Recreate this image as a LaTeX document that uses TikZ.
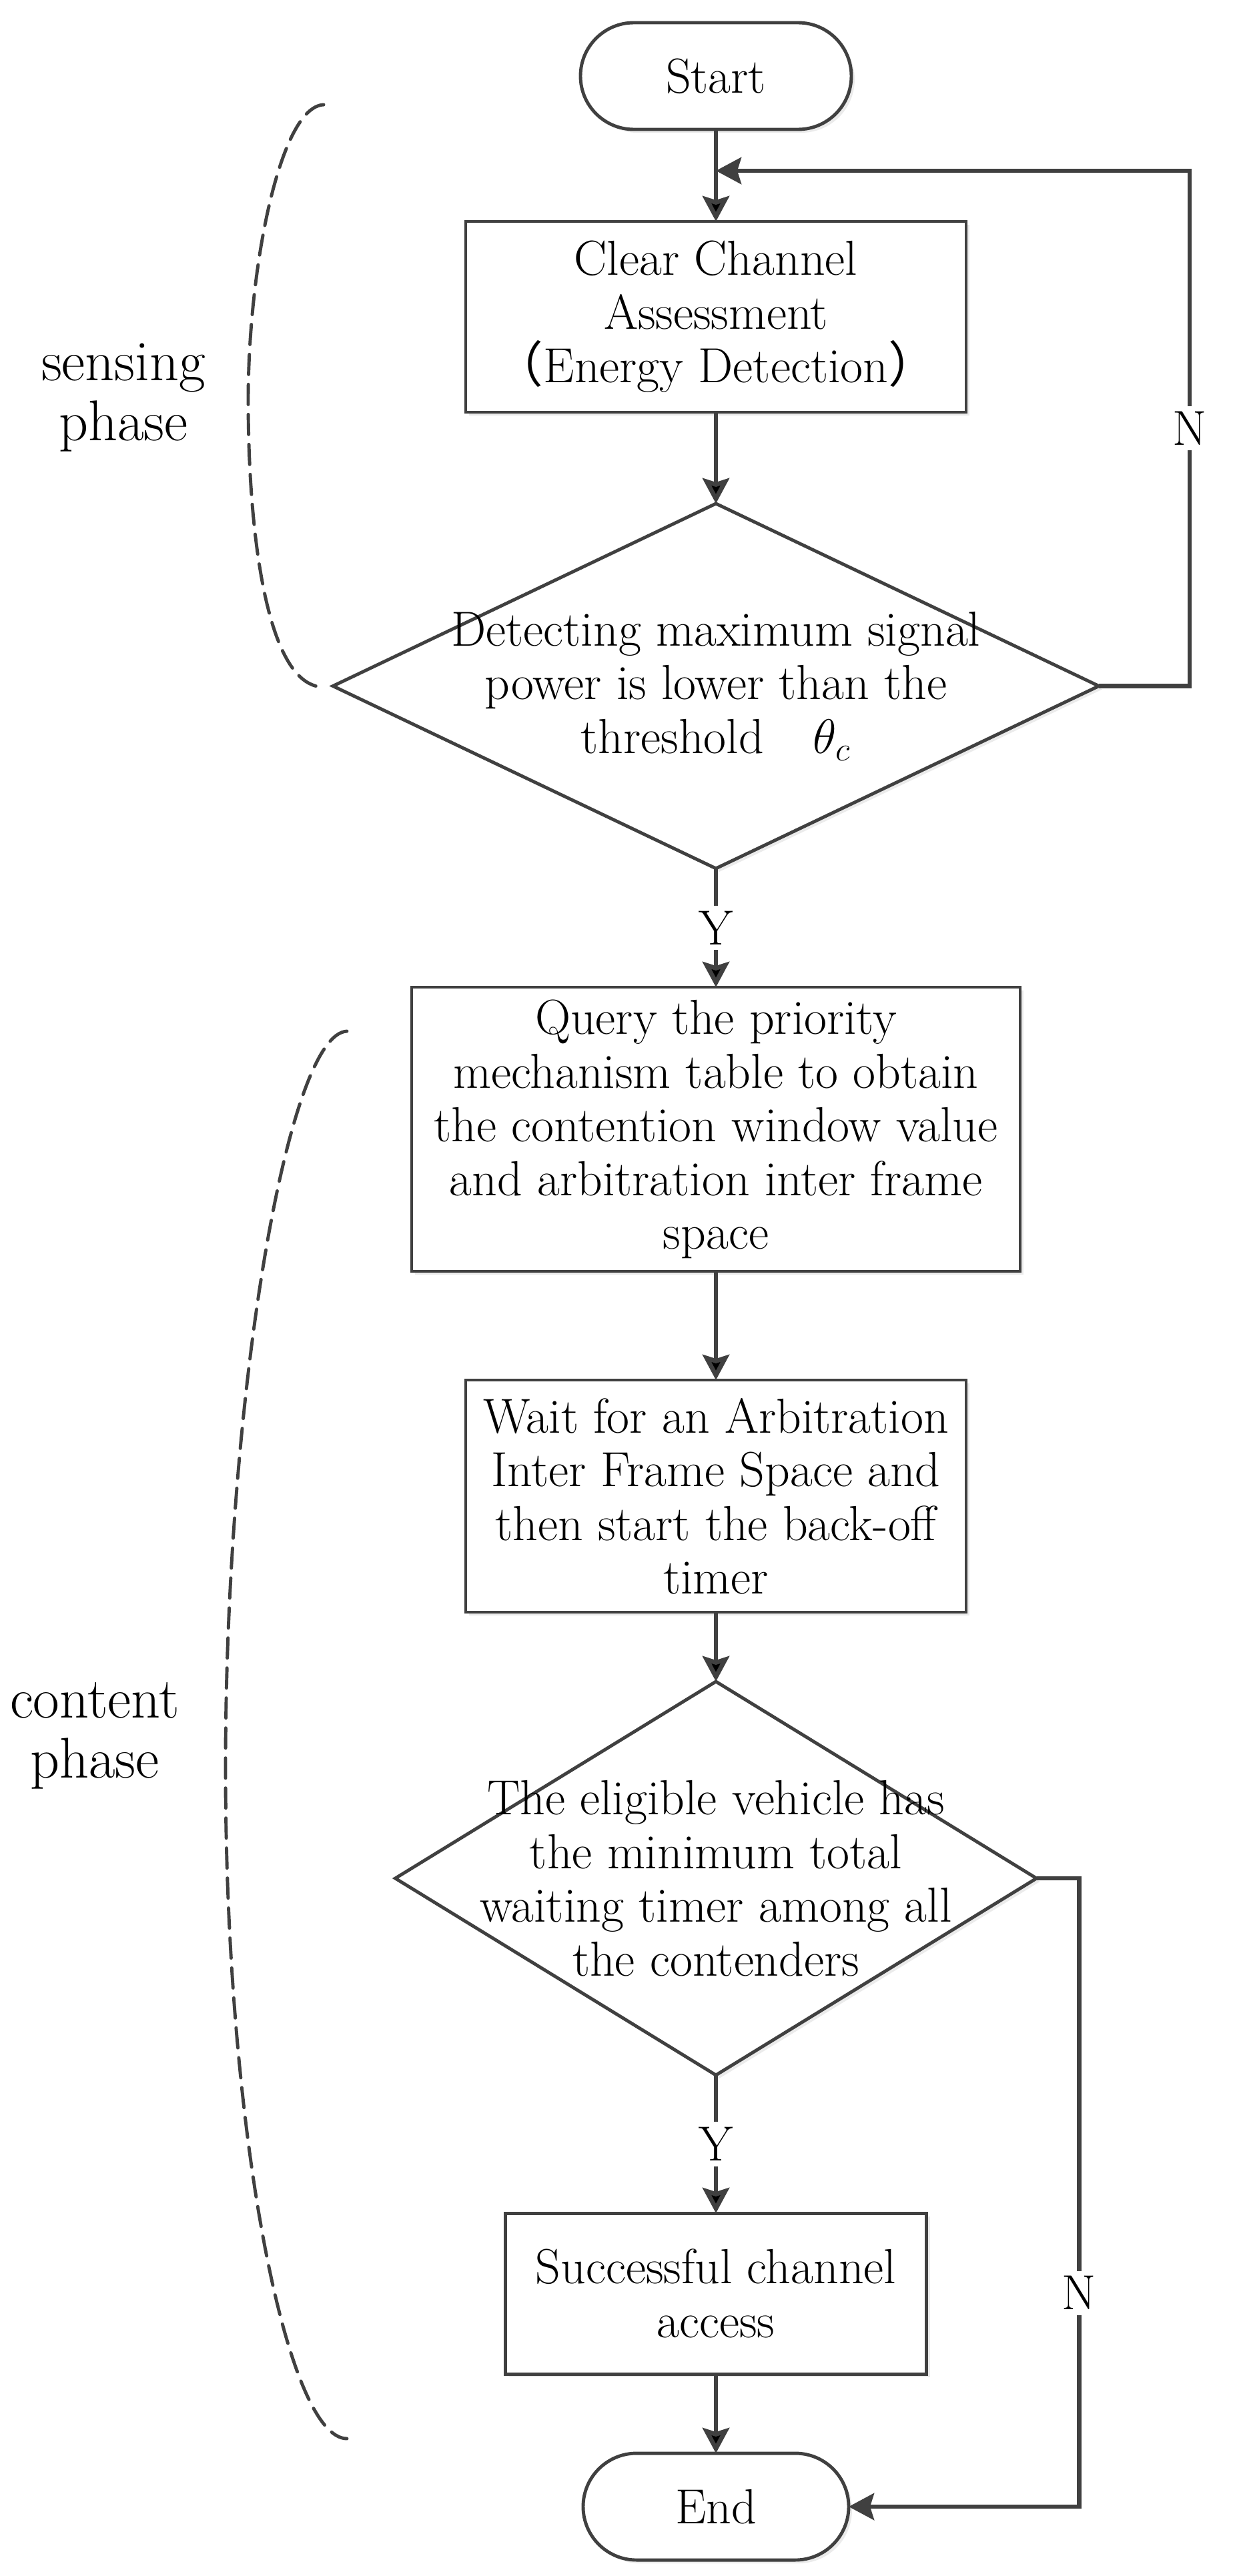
\documentclass[tikz,border=0pt]{standalone}
\usepackage{fontspec}
\newfontfamily\cjk{Noto Sans CJK SC}
\usepackage{tikz}
\usetikzlibrary{positioning,shapes.geometric,arrows.meta,shadows}

\definecolor{ink}{HTML}{404040}
\newcommand\boxfont{\fontsize{21}{22.9}\selectfont}
\newcommand\phasefont{\fontsize{24.5}{25.6}\selectfont}

\tikzset{
    base/.style={draw=ink, line width=1.4pt, fill=white, outer sep=0pt, align=center,
        inner sep=0.1cm, font=\boxfont,
        drop shadow={shadow xshift=0.05cm, shadow yshift=-0.05cm, fill=black, opacity=0.08}},
    term/.style={base, rectangle, rounded corners=0.8cm, minimum height=1.6cm},
    proc/.style={base, rectangle},
    cond/.style={base, diamond, inner sep=0pt},
    flow/.style={draw=ink, line width=1.9pt, -{Stealth[length=0.38cm,width=0.4cm,inset=0.06cm]}},
    yn/.style={fill=white, font=\boxfont, inner sep=0.08cm},
    phase/.style={draw=ink, line width=1.4pt, dash pattern=on 0.3cm off 0.15cm, line cap=round},
}

\begin{document}
\begin{tikzpicture}
            \useasboundingbox (0,0) rectangle (18.5,-38.62);
            \node[term, minimum width=4.06cm](start) at (10.73,-1.14){Start};
            \node[proc, minimum width=7.5cm, minimum height=2.86cm](cca)[below =1.38cm of start]{Clear Channel\\Assessment\\{\cjk （}Energy Detection{\cjk ）}};
            \node[cond, minimum width=11.48cm, minimum height=5.47cm](detect)[below =1.37cm of cca]{};
            \node[align=center, font=\boxfont](detecttxt) at (detect){Detecting maximum signal\\power is lower than the\\threshold\quad$\theta_c$};
            \node[proc, minimum width=9.12cm, minimum height=4.26cm](query)[below =1.78cm of detect]{Query the priority\\mechanism table to obtain\\the contention window value\\and arbitration inter frame\\space};
            \node[proc, minimum width=7.5cm, minimum height=3.48cm](wait)[below =1.63cm of query]{Wait for an Arbitration\\Inter Frame Space and\\then start the back-off\\timer};
            \node[cond, minimum width=9.61cm, minimum height=5.9cm](contend)[below =1.04cm of wait]{};
            \node[align=center, font=\boxfont](contendtxt) at (contend){The eligible vehicle has\\the minimum total\\waiting timer among all\\the contenders};
            \node[proc, minimum width=6.31cm, minimum height=2.41cm](success)[below =2.07cm of contend]{Successful channel\\access};
            \node[term, minimum width=3.98cm](finish)[below =1.19cm of success]{End};
            \coordinate (join) at (10.73,-2.56);
            \path[flow](start) edge (cca)
                        (cca) edge (detect)
                        (detect) edge node[yn]{Y} (query)
                        (query) edge (wait)
                        (wait) edge (contend)
                        (contend) edge node[yn]{Y} (success)
                        (success) edge (finish);
            % back loops
            \draw[flow](detect.east) -- ++(1.36,0) |- node[yn, pos=0.25]{N} (join);
            \draw[flow](contend.east) -- ++(0.64,0) |- node[yn, pos=0.33]{N} (finish.east);
            % phase brackets
            \node[font=\phasefont, align=center](sensing) at (1.85,-5.96){sensing\\phase};
            \node[font=\phasefont, align=center](content) at (1.42,-26.02){content\\phase};
            \draw[phase](4.85,-1.57) .. controls (4.2,-1.6) and (3.72,-4.0) .. (3.72,-6.0)
                        .. controls (3.72,-8.0) and (4.0,-10.3) .. (4.85,-10.3);
            \draw[phase](5.2,-15.46) .. controls (4.3,-15.5) and (3.38,-21.0) .. (3.38,-26.5)
                        .. controls (3.38,-32.0) and (4.3,-36.56) .. (5.2,-36.56);
        \end{tikzpicture}
\end{document}
